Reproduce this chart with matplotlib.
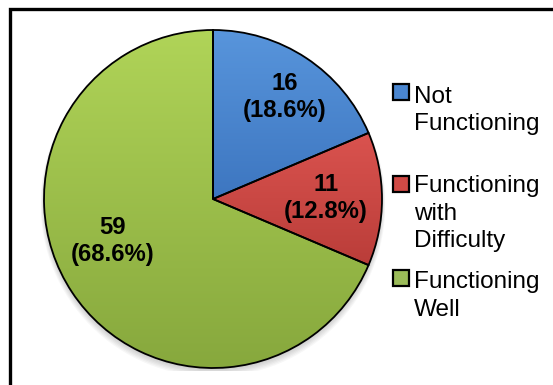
import numpy as np
import matplotlib
matplotlib.use("Agg")
import matplotlib.pyplot as plt
from matplotlib.colors import LinearSegmentedColormap
from matplotlib.patches import Rectangle, Circle

plt.rcParams['font.family'] = ['Liberation Sans', 'DejaVu Sans']

# Data
categories = ["Not\nFunctioning", "Functioning\nwith\nDifficulty", "Functioning\nWell"]
counts = [16, 11, 59]

# Fill gradients (top colour, bottom colour) for each slice
grad_colors = [("#5895dc", "#3d76c0"), ("#da534f", "#ba3d39"), ("#b0d458", "#87a83d")]
legend_colors = ["#4a86d0", "#d04a45", "#9bbb59"]

# First-line baseline of each value label, in pie units
label_xy = [(0.426, 0.645), (0.669, 0.049), (-0.592, -0.207)]

W, H = 553, 385
fig = plt.figure(figsize=(W / 100, H / 100), dpi=100)
fig.patch.set_facecolor("white")

cx, cy, r = 213, 199, 169
pad = 1.02
ax = fig.add_axes([(cx - r * pad) / W, (H - cy - r * pad) / H, 2 * r * pad / W, 2 * r * pad / H])
ax.set_aspect("equal")
ax.axis("off")

# soft shadow below the pie
for k in range(6):
    ax.add_patch(Circle((0, -0.012 - 0.004 * k), 1.0 + 0.004 * k,
                        facecolor="black", alpha=0.03, edgecolor="none", zorder=0))

wedges, _ = ax.pie(counts, startangle=90, counterclock=False, radius=1.0,
                   wedgeprops=dict(edgecolor="black", linewidth=1.3, facecolor="none"))

grad = np.linspace(0, 1, 256).reshape(-1, 1)
for w, (top, bot) in zip(wedges, grad_colors):
    cmap = LinearSegmentedColormap.from_list("g", [top, bot])
    bb = w.get_path().get_extents(w.get_patch_transform())
    im = ax.imshow(grad, cmap=cmap, extent=[bb.x0, bb.x1, bb.y0, bb.y1],
                   aspect="auto", origin="upper", zorder=1)
    im.set_clip_path(w)
    w.set_zorder(2)
ax.set_xlim(-pad, pad)
ax.set_ylim(-pad, pad)

total = sum(counts)
step = 27.5 / r
for v, (x, y) in zip(counts, label_xy):
    lines = [f"{v}", f"({v / total * 100:.1f}%)"]
    for i, line in enumerate(lines):
        ax.text(x, y - i * step, line, ha="center", va="baseline",
                fontsize=17.2, fontweight="bold", zorder=3)

# legend drawn in figure pixels
square_centres = [91.5, 183.5, 277.5]
first_baselines = [103, 192, 288]
legend_step = 27.5
s = 16
for lab, col, yc, yb in zip(categories, legend_colors, square_centres, first_baselines):
    fig.patches.append(Rectangle((393 / W, (H - yc - s / 2) / H), s / W, s / H,
                                 transform=fig.transFigure, facecolor=col,
                                 edgecolor="black", linewidth=1.6))
    for i, line in enumerate(lab.split("\n")):
        fig.text(414 / W, (H - yb - i * legend_step) / H, line, ha="left",
                 va="baseline", fontsize=17.5)

# outer frame
fig.patches.append(Rectangle((9.5 / W, -0.1), 1.2, (H - 9.5) / H + 0.1,
                             transform=fig.transFigure, facecolor="none",
                             edgecolor="black", linewidth=2.4))

fig.savefig("out.png", dpi=100)
